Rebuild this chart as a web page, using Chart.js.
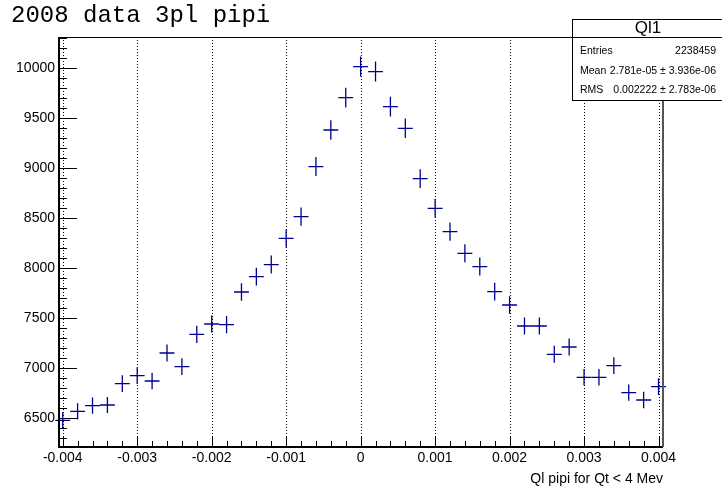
<!DOCTYPE html>
<html>
<head>
<meta charset="utf-8">
<script src="https://cdn.jsdelivr.net/npm/chart.js@4.4.1/dist/chart.umd.min.js"></script>
<style>
  html, body { margin: 0; padding: 0; background: #fff; }
  #wrap { width: 722px; height: 491px; }
</style>
</head>
<body>
<div id="wrap"><canvas id="qlChart" width="722" height="491"></canvas></div>
<script>
// bin centres of the Ql histogram
const binCenters = [
  -0.004, -0.0038, -0.0036, -0.0034, -0.0032, -0.003, -0.0028, -0.0026, -0.0024, -0.0022,
  -0.002, -0.0018, -0.0016, -0.0014, -0.0012, -0.001, -0.0008, -0.0006, -0.0004, -0.0002,
  0, 0.0002, 0.0004, 0.0006, 0.0008, 0.001, 0.0012, 0.0014, 0.0016, 0.0018,
  0.002, 0.0022, 0.0024, 0.0026, 0.0028, 0.003, 0.0032, 0.0034, 0.0036, 0.0038, 0.004
];
const counts = [
  6480, 6570, 6626, 6633, 6847, 6927, 6873, 7153, 7017, 7340,
  7443, 7437, 7763, 7917, 8037, 8300, 8517, 9017, 9383, 9707,
  10017, 9967, 9617, 9400, 8897, 8600, 8367, 8150, 8017, 7767,
  7633, 7423, 7423, 7140, 7213, 6910, 6910, 7027, 6757, 6683, 6817
];
const countErrors = [
  80, 81, 81, 81, 83, 83, 83, 85, 84, 86,
  86, 86, 88, 89, 90, 91, 92, 95, 97, 99,
  100, 100, 98, 97, 94, 93, 91, 90, 90, 88,
  87, 86, 86, 85, 85, 83, 83, 84, 82, 82, 83
];
const halfBin = 0.0001;

const xTickValues = [-0.004, -0.003, -0.002, -0.001, 0, 0.001, 0.002, 0.003, 0.004];
const xTickLabels = ['-0.004', '-0.003', '-0.002', '-0.001', '0', '0.001', '0.002', '0.003', '0.004'];
const yTickValues = [6500, 7000, 7500, 8000, 8500, 9000, 9500, 10000];

const histTitle = '2008 data 3pl pipi';
const xAxisTitle = 'Ql pipi for Qt < 4 Mev';
const statsName = 'Ql1';
const statsLabels = ['Entries', 'Mean', 'RMS'];
const statsValues = ['2238459', '2.781e-05 \u00b1 3.936e-06', '0.002222 \u00b1 2.783e-06'];

const xMin = -0.00405, xMax = 0.00406;
const yMin = 6213, yMax = 10313;

const sans = 'Liberation Sans, Arial, sans-serif';
const markColor = '#000090';

const rootStyle = {
  id: 'rootStyle',
  beforeDatasetsDraw(chart) {
    const {ctx, chartArea: a, scales: {x}} = chart;
    ctx.save();
    ctx.strokeStyle = '#000';
    ctx.lineWidth = 1;
    ctx.setLineDash([1, 2]);
    xTickValues.forEach(v => {
      const px = Math.round(x.getPixelForValue(v)) + 0.5;
      ctx.beginPath();
      ctx.moveTo(px, a.top);
      ctx.lineTo(px, a.bottom);
      ctx.stroke();
    });
    ctx.restore();
  },
  afterDatasetsDraw(chart) {
    const {ctx, chartArea: a, scales: {x, y}} = chart;
    ctx.save();

    // error crosses
    ctx.strokeStyle = markColor;
    ctx.lineWidth = 1.3;
    binCenters.forEach((bx, i) => {
      const px = x.getPixelForValue(bx);
      const py = y.getPixelForValue(counts[i]);
      ctx.beginPath();
      ctx.moveTo(x.getPixelForValue(bx - halfBin), py);
      ctx.lineTo(x.getPixelForValue(bx + halfBin), py);
      ctx.moveTo(px, y.getPixelForValue(counts[i] - countErrors[i]));
      ctx.lineTo(px, y.getPixelForValue(counts[i] + countErrors[i]));
      ctx.stroke();
    });

    // axis ticks, drawn inside the frame
    ctx.strokeStyle = '#000';
    ctx.lineWidth = 1;
    ctx.beginPath();
    for (let v = 6300; v <= yMax; v += 100) {
      const py = Math.round(y.getPixelForValue(v)) + 0.5;
      const len = v % 500 === 0 ? 18 : 8;
      ctx.moveTo(a.left, py);
      ctx.lineTo(a.left + len, py);
    }
    for (let k = -20; k <= 20; k++) {
      const px = Math.round(x.getPixelForValue(k * 0.0002)) + 0.5;
      const len = k % 5 === 0 ? 11 : 6;
      ctx.moveTo(px, a.bottom);
      ctx.lineTo(px, a.bottom - len);
    }
    ctx.stroke();

    // frame
    ctx.beginPath();
    ctx.moveTo(a.left, a.top + 0.5);
    ctx.lineTo(a.right, a.top + 0.5);
    ctx.stroke();
    ctx.lineWidth = 2;
    ctx.beginPath();
    ctx.moveTo(a.left, a.top);
    ctx.lineTo(a.left, a.bottom);
    ctx.lineTo(a.right, a.bottom);
    ctx.stroke();
    ctx.strokeStyle = '#555';
    ctx.beginPath();
    ctx.moveTo(a.right, a.top);
    ctx.lineTo(a.right, a.bottom);
    ctx.stroke();

    // stats box
    const bx0 = 572.5, by0 = 19.5, by1 = 100.5;
    ctx.fillStyle = '#fff';
    ctx.fillRect(bx0, by0, 200, by1 - by0);
    ctx.strokeStyle = '#000';
    ctx.lineWidth = 1;
    ctx.strokeRect(bx0, by0, 200, by1 - by0);
    ctx.beginPath();
    ctx.moveTo(bx0, 37.5);
    ctx.lineTo(722, 37.5);
    ctx.stroke();
    ctx.fillStyle = '#000';
    ctx.font = '17px ' + sans;
    ctx.textAlign = 'center';
    ctx.textBaseline = 'alphabetic';
    ctx.fillText(statsName, 648, 33);
    ctx.font = '10.5px ' + sans;
    const rows = [54, 74, 93];
    statsLabels.forEach((lab, i) => {
      ctx.textAlign = 'left';
      ctx.fillText(lab, 580, rows[i]);
      ctx.textAlign = 'right';
      ctx.fillText(statsValues[i], 716, rows[i]);
    });

    // histogram title
    ctx.font = '24px Liberation Mono, Courier New, monospace';
    ctx.textAlign = 'left';
    ctx.fillText(histTitle, 11, 22);
    ctx.restore();
  }
};

const ctx = document.getElementById('qlChart').getContext('2d');
new Chart(ctx, {
  type: 'scatter',
  data: {
    datasets: [{
      data: binCenters.map((bx, i) => ({x: bx, y: counts[i]})),
      pointRadius: 0,
      pointHoverRadius: 0,
      showLine: false
    }]
  },
  options: {
    responsive: false,
    animation: false,
    devicePixelRatio: 1,
    layout: { padding: { left: 0, top: 37, right: 59, bottom: 0 } },
    plugins: { legend: { display: false }, tooltip: { enabled: false } },
    scales: {
      x: {
        type: 'linear',
        min: xMin,
        max: xMax,
        afterBuildTicks: s => { s.ticks = xTickValues.map(v => ({value: v})); },
        afterFit: s => { s.height = 44; },
        grid: { display: false, drawTicks: false },
        border: { display: false },
        ticks: {
          autoSkip: false,
          maxRotation: 0,
          padding: 3,
          color: '#000',
          font: { family: sans, size: 14 },
          callback: (v, i) => xTickLabels[i]
        },
        title: {
          display: true,
          text: xAxisTitle,
          align: 'end',
          color: '#000',
          font: { family: sans, size: 14 },
          padding: { top: 0, bottom: 3 }
        }
      },
      y: {
        min: yMin,
        max: yMax,
        afterBuildTicks: s => { s.ticks = yTickValues.map(v => ({value: v})); },
        afterFit: s => { s.width = 59; },
        grid: { display: false, drawTicks: false },
        border: { display: false },
        ticks: {
          autoSkip: false,
          padding: 4,
          color: '#000',
          font: { family: sans, size: 14 },
          callback: v => String(v)
        }
      }
    }
  },
  plugins: [rootStyle]
});
</script>
</body>
</html>
